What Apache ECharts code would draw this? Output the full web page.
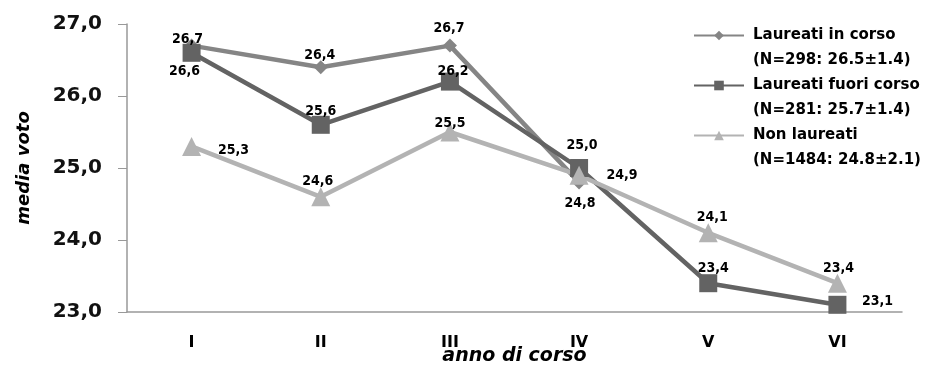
<!DOCTYPE html>
<html>
<head>
<meta charset="utf-8">
<script src="https://cdn.jsdelivr.net/npm/echarts@6/dist/echarts.min.js"></script>
<style>
    html, body {margin: 0; padding: 0; background: #fff;}
    #box {width: 926px; height: 365px;}
</style>
</head>
<body>
<div id="box"></div>
<script>
var categories = ['I', 'II', 'III', 'IV', 'V', 'VI'];
var seriesNames = ['Laureati in corso', 'Laureati fuori corso', 'Non laureati'];
var seriesStats = ['(N=298: 26.5±1.4)', '(N=281: 25.7±1.4)', '(N=1484: 24.8±2.1)'];
var inCorso = [26.7, 26.4, 26.7, 24.8, null, null];
var fuoriCorso = [26.6, 25.6, 26.2, 25.0, 23.4, 23.1];
var nonLaureati = [25.3, 24.6, 25.5, 24.9, 24.1, 23.4];

// spostamento etichette rispetto al centro del punto [dx, dy]
var offInCorso = [[-4, -6], [-1, -12], [-1, -17], [1, 21]];
var offFuori = [[-7, 19], [0, -13], [3, -10], [3, -23], [5, -15], [40, -3]];
var offNon = [[42, 4], [-3, -15], [0, -9], [43, 0], [4, -15], [1, -15]];

function fmt(v) {
    return v.toFixed(1).replace('.', ',');
}

function buildData(values, offs) {
    return values.map(function (v, i) {
        if (v === null) return '-';
        return {
            value: v,
            label: {position: 'inside', offset: offs[i]}
        };
    });
}

var labelStyle = {
    show: true,
    color: '#000',
    fontFamily: '"DejaVu Sans Condensed", "DejaVu Sans", sans-serif',
    fontWeight: 'bold',
    fontSize: 14,
    formatter: function (p) { return fmt(p.value); }
};

var myChart = echarts.init(document.getElementById('box'));
var option = {
    animation: false,
    grid: {left: 127, right: 24, top: 24, bottom: 53, containLabel: false, outerBoundsMode: 'none'},
    legend: {
        orient: 'vertical',
        left: 693,
        top: -2,
        padding: 0,
        itemWidth: 50,
        itemHeight: 12,
        itemGap: -25,
        data: seriesNames,
        // riga vuota iniziale: così l'icona resta allineata alla prima riga
        formatter: function (name) {
            return '\n' + name + '\n' + seriesStats[seriesNames.indexOf(name)];
        },
        textStyle: {
            color: '#000',
            fontFamily: '"DejaVu Sans", sans-serif',
            fontWeight: 'bold',
            fontSize: 15,
            lineHeight: 25,
            padding: [0, 0, 0, 4]
        }
    },
    xAxis: {
        type: 'category',
        data: categories,
        boundaryGap: true,
        name: 'anno di corso',
        nameLocation: 'middle',
        nameGap: 35,
        nameMoveOverlap: false,
        nameTextStyle: {
            color: '#000',
            fontFamily: '"DejaVu Sans", sans-serif',
            fontWeight: 'bold',
            fontStyle: 'italic',
            fontSize: 19
        },
        axisLine: {lineStyle: {color: '#999', width: 1.5}},
        axisTick: {alignWithLabel: true, inside: true, length: 5, lineStyle: {color: '#999'}},
        axisLabel: {
            color: '#000',
            fontFamily: '"DejaVu Sans", sans-serif',
            fontWeight: 'bold',
            fontSize: 16,
            margin: 23
        },
        splitLine: {show: false}
    },
    yAxis: {
        type: 'value',
        min: 23,
        max: 27,
        interval: 1,
        name: 'media voto',
        nameLocation: 'middle',
        nameGap: 94,
        nameMoveOverlap: false,
        nameTextStyle: {
            color: '#000',
            fontFamily: '"DejaVu Sans", sans-serif',
            fontWeight: 'bold',
            fontStyle: 'italic',
            fontSize: 18
        },
        axisLine: {show: true, lineStyle: {color: '#999', width: 1.5}},
        axisTick: {show: true, length: 9, lineStyle: {color: '#999'}},
        axisLabel: {
            color: '#111',
            fontFamily: '"DejaVu Sans", sans-serif',
            fontWeight: 'bold',
            fontSize: 20,
            margin: 25,
            formatter: fmt
        },
        splitLine: {show: false}
    },
    series: [
        {
            name: seriesNames[0],
            type: 'line',
            data: buildData(inCorso, offInCorso),
            symbol: 'diamond',
            symbolSize: 14,
            lineStyle: {width: 4.5, color: '#858585'},
            itemStyle: {color: '#858585'},
            label: labelStyle
        },
        {
            name: seriesNames[1],
            type: 'line',
            data: buildData(fuoriCorso, offFuori),
            symbol: 'rect',
            symbolSize: 18,
            lineStyle: {width: 4.5, color: '#636363'},
            itemStyle: {color: '#636363'},
            label: labelStyle
        },
        {
            name: seriesNames[2],
            type: 'line',
            data: buildData(nonLaureati, offNon),
            symbol: 'triangle',
            symbolSize: 19,
            lineStyle: {width: 4.5, color: '#b3b3b3'},
            itemStyle: {color: '#b3b3b3'},
            label: labelStyle
        }
    ]
};
myChart.setOption(option);
</script>
</body>
</html>
